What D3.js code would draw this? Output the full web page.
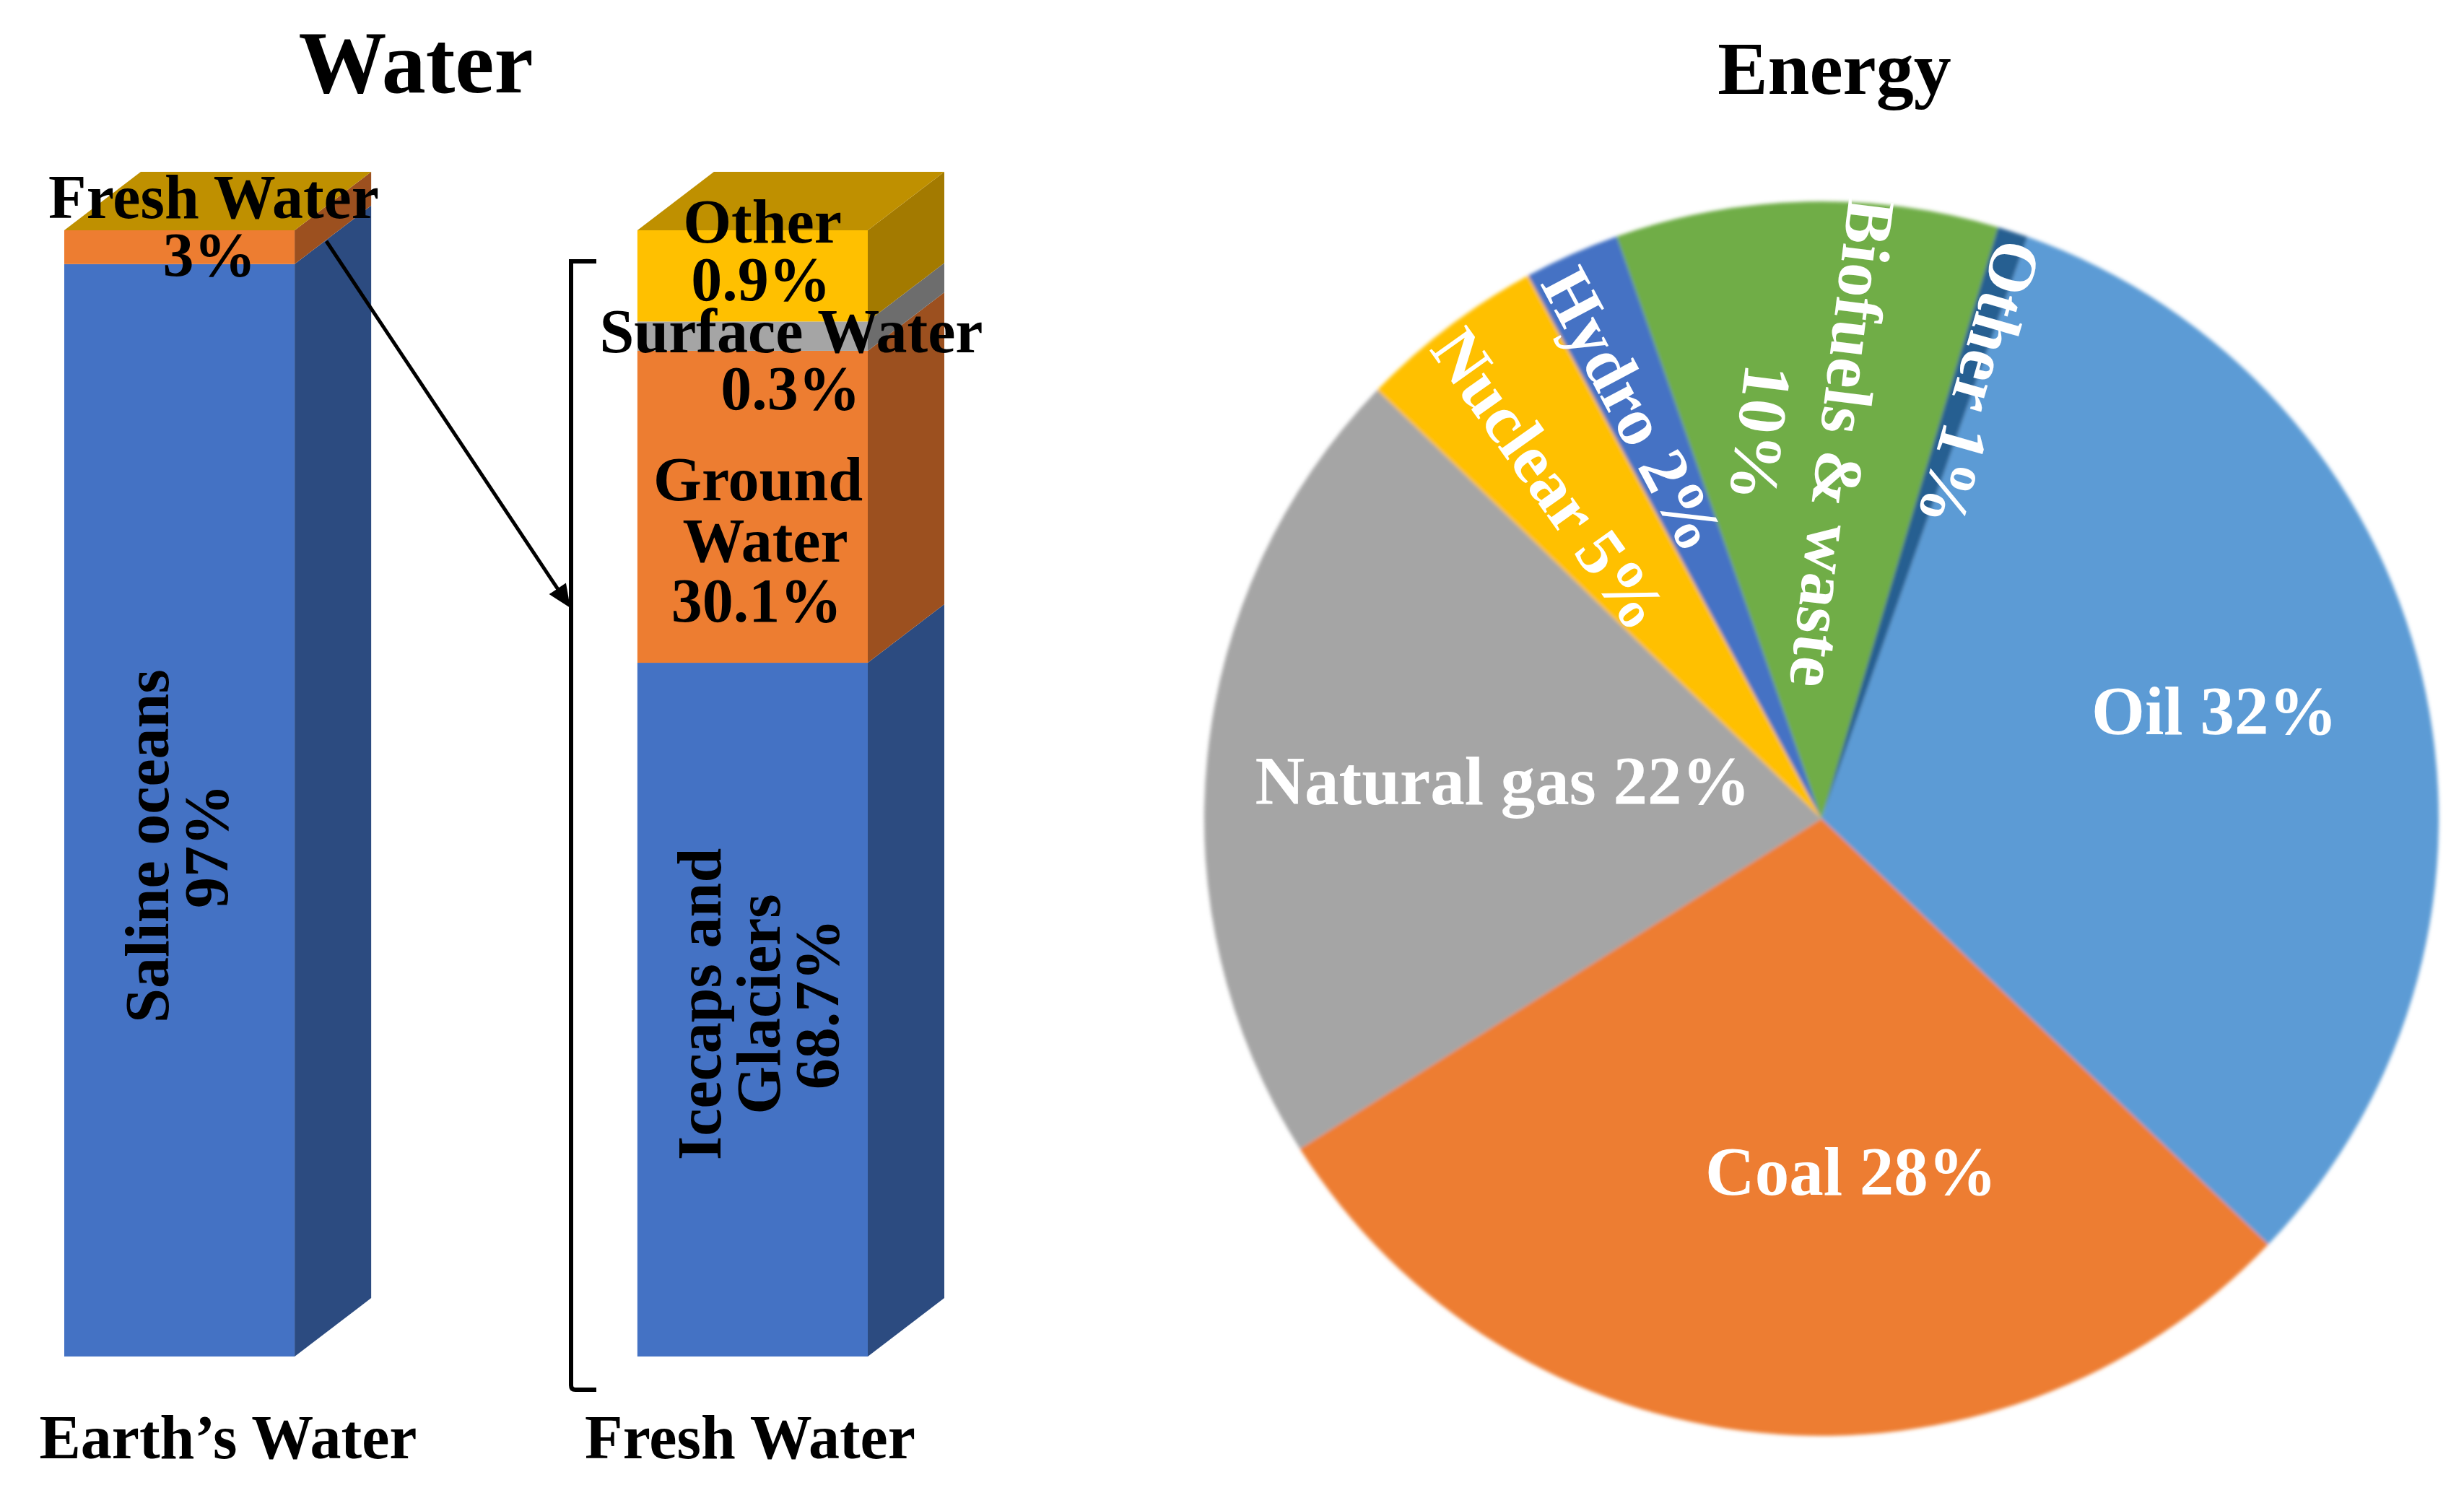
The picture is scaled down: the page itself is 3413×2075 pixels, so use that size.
<!DOCTYPE html>
<html>
<head>
<meta charset="utf-8">
<script src="https://cdn.jsdelivr.net/npm/d3@7"></script>
<style>
  html, body { margin: 0; padding: 0; background: #ffffff; }
  svg { display: block; }
  text { font-family: "Liberation Serif", "Times New Roman", serif; font-weight: bold; }
</style>
</head>
<body>
<svg id="chart" width="3413" height="2075"></svg>
<script>
// ---------------- DATA ----------------
const waterCategories = ["Earth\u2019s Water", "Fresh Water"];

const earthSeries = ["Saline oceans", "Fresh Water"];
const earthValues = [97, 3];               // share of bar height (%)
const earthLabels = ["97%", "3%"];

const freshSeries = ["Icecaps and Glaciers", "Ground Water", "Surface Water", "Other"];
const freshValues = [61.6, 27.7, 2.6, 8.1]; // drawn share of bar height (%)
const freshLabels = ["68.7%", "30.1%", "0.3%", "0.9%"];

const energyCategories = ["Oil", "Coal", "Natural gas", "Nuclear", "Hydro", "Biofuels & waste", "Other"];
const energyValues = [31.7, 28.9, 21.2, 4.9, 2.5, 10.0, 0.8]; // drawn slice shares
const energyLabels = [["Oil 32%"], ["Coal 28%"], ["Natural gas 22%"], ["Nuclear 5%"], ["Hydro 2%"], ["Biofuels & waste", "10%"], ["Other 1%"]];

// ---------------- STYLE / LAYOUT ----------------
const colors = {
  blue:   { front: "#4472C4", side: "#2C4B80" },
  orange: { front: "#ED7D31", side: "#9C501F" },
  grey:   { front: "#A5A5A5", side: "#6D6D6D" },
  yellow: { front: "#FFC000", side: "#A37A00" },
  top: "#BF9000"
};
const earthColors = [colors.blue, colors.orange];
const freshColors = [colors.blue, colors.orange, colors.grey, colors.yellow];
const pieColors = ["#5B9BD5", "#ED7D31", "#A5A5A5", "#FFC000", "#4472C4", "#70AD47", "#255E91"];

const svg = d3.select("#chart");

// ---------- Bars ----------
const depth = { dx: 106, dy: 81 };
const x = d3.scaleBand().domain(waterCategories).range([89, 1202]).paddingInner(0.598).paddingOuter(0).align(0);
const y = d3.scaleLinear().domain([0, 100]).range([1879, 319]);

function drawBar(cat, values, cols) {
  const x0 = x(cat), w = x.bandwidth();
  const g = svg.append("g");
  let cum = 0;
  const segs = values.map((v, i) => { const s = { y0: cum, y1: cum + v, c: cols[i] }; cum += v; return s; });
  segs.forEach(s => {
    const yb = y(s.y0), yt = y(s.y1);
    g.append("rect").attr("x", x0).attr("y", yt).attr("width", w).attr("height", yb - yt).attr("fill", s.c.front);
    g.append("path").attr("d", d3.line()([
      [x0 + w, yb], [x0 + w + depth.dx, yb - depth.dy], [x0 + w + depth.dx, yt - depth.dy], [x0 + w, yt]
    ]) + "Z").attr("fill", s.c.side);
  });
  const yTop = y(cum);
  g.append("path").attr("d", d3.line()([
    [x0, yTop], [x0 + w, yTop], [x0 + w + depth.dx, yTop - depth.dy], [x0 + depth.dx, yTop - depth.dy]
  ]) + "Z").attr("fill", colors.top);
}
drawBar(waterCategories[0], earthValues, earthColors);
drawBar(waterCategories[1], freshValues, freshColors);

// text helper
function txt(xp, yp, s, size, fill, anchor) {
  return svg.append("text").attr("x", xp).attr("y", yp).attr("font-size", size)
    .attr("fill", fill || "#000").attr("text-anchor", anchor || "middle").text(s);
}

// Titles
txt(576, 128, "Water", 122);
txt(2541, 130, "Energy", 104);

// Bottom category labels
const catLabelX = [316, 1039];
waterCategories.forEach((c, i) => txt(catLabelX[i], 2020, c, 86));

// Earth's water labels
txt(296, 302, earthSeries[1], 86);
txt(290, 382, earthLabels[1], 86);
// rotated saline oceans
const sal = svg.append("text").attr("font-size", 86).attr("text-anchor", "middle")
  .attr("transform", "translate(243,1172) rotate(-90)");
sal.append("tspan").attr("x", 0).attr("y", -10).text(earthSeries[0]);
sal.append("tspan").attr("x", 0).attr("y", 72).text(earthLabels[0]);

// Fresh water labels
txt(1056, 336, freshSeries[3], 86);
txt(1054, 416, freshLabels[3], 86);
txt(1096, 488, freshSeries[2], 86);
txt(1095, 567, freshLabels[2], 86);
txt(1050, 693, "Ground", 86);
txt(1060, 778, "Water", 86);
txt(1048, 861, freshLabels[1], 86);
const ice = svg.append("text").attr("font-size", 86).attr("text-anchor", "middle")
  .attr("transform", "translate(1051,1391) rotate(-90)");
ice.append("tspan").attr("x", 0).attr("y", -53).text("Icecaps and");
ice.append("tspan").attr("x", 0).attr("y", 29).text("Glaciers");
ice.append("tspan").attr("x", 0).attr("y", 110).text(freshLabels[0]);

// Bracket
svg.append("path")
  .attr("d", "M826,362 L791,362 L791,1919 Q791,1925 797,1925 L826,1925")
  .attr("fill", "none").attr("stroke", "#000").attr("stroke-width", 6);

// Arrow
const a0 = [452, 334], tip = [790, 842];
const L = Math.hypot(tip[0] - a0[0], tip[1] - a0[1]);
const u = [(tip[0] - a0[0]) / L, (tip[1] - a0[1]) / L], n = [-u[1], u[0]];
const headL = 32, headW = 14;
const base = [tip[0] - headL * u[0], tip[1] - headL * u[1]];
svg.append("line").attr("x1", a0[0]).attr("y1", a0[1])
  .attr("x2", base[0] + 4 * u[0]).attr("y2", base[1] + 4 * u[1])
  .attr("stroke", "#000").attr("stroke-width", 5);
svg.append("path").attr("d", d3.line()([
  tip, [base[0] + headW * n[0], base[1] + headW * n[1]], [base[0] - headW * n[0], base[1] - headW * n[1]]
]) + "Z").attr("fill", "#000");

// ---------- Pie ----------
const cx = 2523, cy = 1134, R = 855;
const startDeg = 19.5;
const rad = d => d * Math.PI / 180;
const pie = d3.pie().sort(null).value(d => d).startAngle(rad(startDeg)).endAngle(rad(startDeg + 360));
const arcs = pie(energyValues);
const arc = d3.arc().innerRadius(0).outerRadius(R);

const defs = svg.append("defs");
defs.append("filter").attr("id", "soft").attr("x", "-5%").attr("y", "-5%").attr("width", "110%").attr("height", "110%")
  .append("feGaussianBlur").attr("stdDeviation", 2.5);

const pg = svg.append("g").attr("transform", `translate(${cx},${cy})`);
pg.append("g").attr("filter", "url(#soft)")
  .selectAll("path").data(arcs).join("path")
  .attr("d", arc).attr("fill", (d, i) => pieColors[i]);

// label layout: angular nudge (deg), radius fraction, rotation (deg)
const labelLayout = [
  { dA: -1.86, r: 0.66, rot: 0 },
  { dA: -10.44, r: 0.573, rot: 0 },
  { dA: 0.88, r: 0.52, rot: 0 },
  { dA: -1.5, r: 0.705, rot: 54.6 },
  { dA: -0.82, r: 0.73, rot: 62 },
  { dA: -1.6, r: 0.617, rot: 97 },
  { dA: 1.94, r: 0.75, rot: 106 }
];
const fs = 95, lh = 114;
arcs.forEach((d, i) => {
  const lay = labelLayout[i];
  const mid = (d.startAngle + d.endAngle) / 2 + rad(lay.dA);
  const px = Math.sin(mid) * R * lay.r, py = -Math.cos(mid) * R * lay.r;
  const lines = energyLabels[i];
  const t = pg.append("text").attr("font-size", fs).attr("fill", "#fff").attr("text-anchor", "middle")
    .attr("transform", `translate(${px},${py}) rotate(${lay.rot})`);
  lines.forEach((s, k) => {
    const off = (k - (lines.length - 1) / 2) * lh + fs * 0.34;
    t.append("tspan").attr("x", 0).attr("y", off).text(s);
  });
});
</script>
</body>
</html>
